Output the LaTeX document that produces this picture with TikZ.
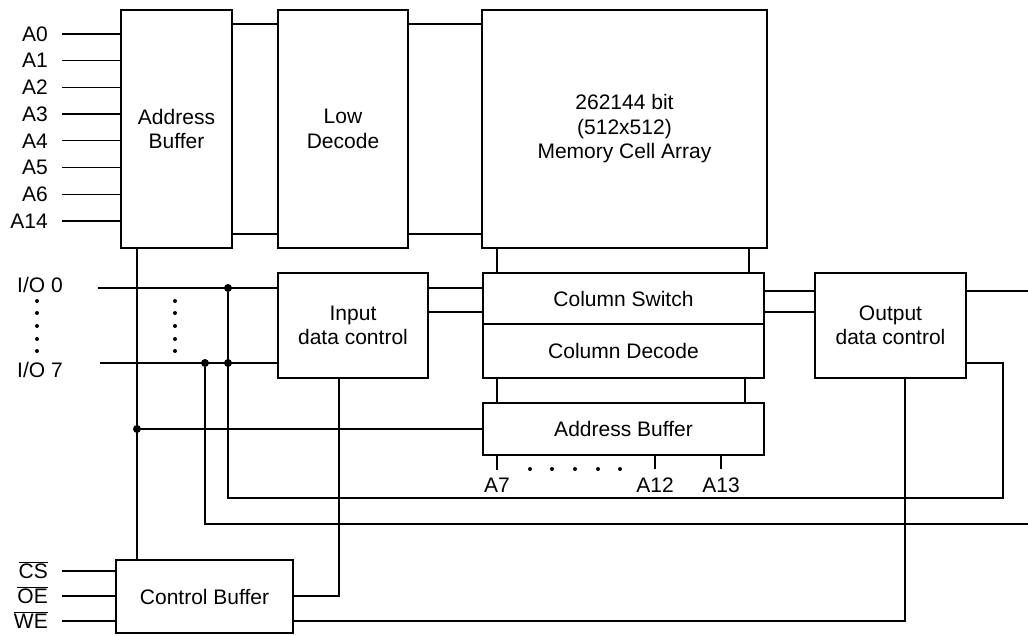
\documentclass[tikz,border=0pt]{standalone}
\usepackage{fontspec}
\setmainfont{Liberation Sans}

\tikzset{
    blk/.style={draw, line width=2.6pt, inner sep=0pt, align=center,
        font=\fontsize{21}{24.5}\selectfont},
    wire/.style={line width=1.3pt},
    lbl/.style={inner sep=0pt, font=\fontsize{21}{24}\selectfont},
    jdot/.style={circle, fill, inner sep=0pt, minimum size=8pt},
}

\begin{document}
\begin{tikzpicture}[x=1pt, y=-1pt]
    \useasboundingbox (0,0) rectangle (1028,635);

    % Blocks
    \node[blk, minimum width=111, minimum height=238] (adrbuf) at (176.5,129) {Address\\Buffer};
    \node[blk, minimum width=130, minimum height=238] (lowdec) at (343,129) {Low\\Decode};
    \node[blk, minimum width=285, minimum height=238] (cellarr) at (624.5,129) {262144 bit\\(512x512)\\Memory Cell Array};
    \node[blk, minimum width=150, minimum height=105] (indata) at (353,325.5) {Input\\data control};
    \node[blk, minimum width=281, minimum height=51] (colsw) at (623.5,298.5) {Column Switch};
    \node[blk, minimum width=281, minimum height=54] (coldec) at (623.5,351) {Column Decode};
    \node[blk, minimum width=281, minimum height=52] (colbuf) at (623.5,429) {Address Buffer};
    \node[blk, minimum width=151, minimum height=105] (outdata) at (890.5,325.5) {Output\\data control};
    \node[blk, minimum width=177, minimum height=73] (ctrlbuf) at (204.5,596.5) {Control Buffer};

    % Row address inputs
    \foreach \nm [count=\i from 0] in {A0,A1,A2,A3,A4,A5,A6,A14} {
        \node[lbl, anchor=east] (a\i) at (48,{34+26.7*\i}) {\nm};
        \draw[wire] ([xshift=14pt]a\i.east) -- (adrbuf.west |- a\i.east);
    }

    % Address Buffer -> Low Decode -> cell array
    \foreach \y in {24,234} {
        \draw[wire] (adrbuf.east |- 0,\y) -- (lowdec.west |- 0,\y);
        \draw[wire] (lowdec.east |- 0,\y) -- (cellarr.west |- 0,\y);
    }

    % Cell array -> column switch, column decode -> address buffer
    \foreach \x in {497,749} \draw[wire] (cellarr.south -| \x,0) -- (colsw.north -| \x,0);
    \foreach \x in {497,745} \draw[wire] (coldec.south -| \x,0) -- (colbuf.north -| \x,0);

    % Data paths
    \foreach \y in {288,312} \draw[wire] (indata.east |- 0,\y) -- (colsw.west |- 0,\y);
    \foreach \y in {291,312} \draw[wire] (colsw.east |- 0,\y) -- (outdata.west |- 0,\y);
    \coordinate (dout) at (1028,291);
    \draw[wire] (outdata.east |- dout) -- (dout);

    % Column address inputs
    \foreach \nm/\x in {A7/497,A12/655,A13/721} {
        \node[lbl] (\nm) at (\x,485) {\nm};
        \draw[wire] (colbuf.south -| \nm) -- ([yshift=8pt]\nm.north);
    }
    \foreach \x in {530,552,575,598,620} \fill (\x,469) circle (2);

    % I/O lines
    \node[lbl, anchor=west] (io0) at (17,285) {I/O 0};
    \node[lbl, anchor=west] (io7) at (17,370) {I/O 7};
    \coordinate (io0s) at (98,288);
    \coordinate (io7s) at (100,363);
    \draw[wire] (io0s) -- (indata.west |- io0s);
    \draw[wire] (io7s) -- (indata.west |- io7s);
    \foreach \y in {301,313,326,339,351} {
        \fill (37,\y) circle (2);
        \fill (175,\y) circle (2);
    }
    \node[jdot] (j0) at (228,288) {};
    \node[jdot] (j7a) at (205,363) {};
    \node[jdot] (j7b) at (228,363) {};

    % Bus from Address Buffer to Control Buffer
    \node[jdot] (jab) at (137,429) {};
    \draw[wire] (adrbuf.south -| jab) -- (ctrlbuf.north -| jab);
    \draw[wire] (jab) -- (colbuf.west |- jab);

    % Loops to the right edge
    \coordinate (c1) at (1003,498);
    \coordinate (c2) at (1028,524);
    \draw[wire] (j0) |- (c1) |- (outdata.east |- 0,363);
    \draw[wire] (j7a) |- (c2);

    % Control Buffer links
    \draw[wire] (indata.south -| 339,0) |- (ctrlbuf.east |- 0,596);
    \draw[wire] (ctrlbuf.east |- 0,621) -| (outdata.south -| 905,0);

    % Control inputs
    \foreach \nm/\y in {CS/571,OE/596,WE/621} {
        \node[lbl, anchor=east] (\nm) at (48,{\y-1}) {$\overline{\hbox{\nm}}$};
        \draw[wire] (62,\y) -- (ctrlbuf.west |- 0,\y);
    }
\end{tikzpicture}
\end{document}
